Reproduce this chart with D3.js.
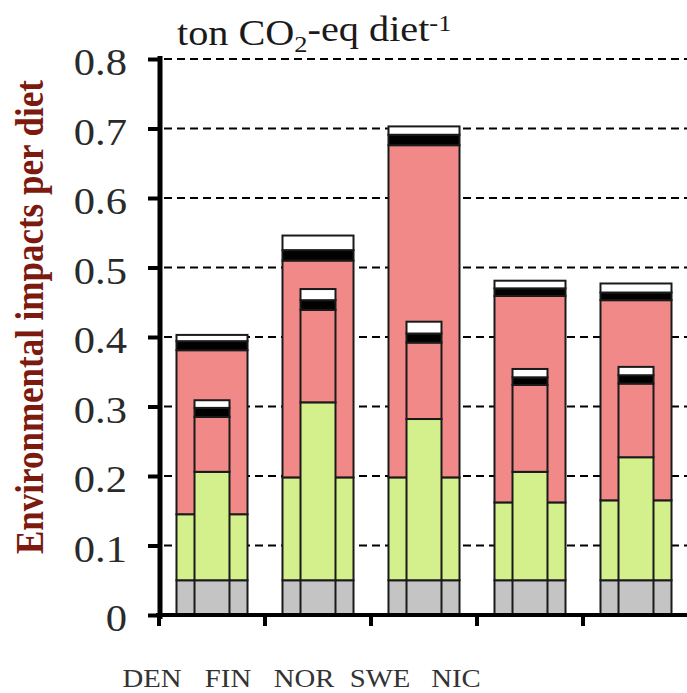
<!DOCTYPE html>
<html>
<head>
<meta charset="utf-8">
<script src="https://cdn.jsdelivr.net/npm/d3@7"></script>
<style>
  html, body { margin: 0; padding: 0; background: #fff; }
  svg { display: block; }
  text { font-family: "Liberation Serif", "Times New Roman", serif; }
</style>
</head>
<body>
<svg id="chart" width="687" height="693"></svg>
<script>
// ---- Data ----
const categories = ["DEN", "FIN", "NOR", "SWE", "NIC"];
const layers = ["base", "green", "red", "black", "white"];

// wide bars (segment values)
const baseWide  = [0.050, 0.050, 0.050, 0.050, 0.050];
const greenWide = [0.095, 0.148, 0.148, 0.112, 0.115];
const redWide   = [0.236, 0.312, 0.478, 0.297, 0.288];
const blackWide = [0.013, 0.015, 0.015, 0.011, 0.011];
const whiteWide = [0.009, 0.021, 0.012, 0.011, 0.013];

// narrow bars (segment values)
const baseNarrow  = [0.050, 0.050, 0.050, 0.050, 0.050];
const greenNarrow = [0.156, 0.256, 0.232, 0.156, 0.177];
const redNarrow   = [0.079, 0.133, 0.110, 0.125, 0.106];
const blackNarrow = [0.013, 0.014, 0.013, 0.011, 0.012];
const whiteNarrow = [0.011, 0.016, 0.017, 0.012, 0.012];

const yTicks = [0, 0.1, 0.2, 0.3, 0.4, 0.5, 0.6, 0.7, 0.8];
const yLabel = "Environmental impacts per diet";

const colors = { base: "#c4c4c4", green: "#d4f08c", red: "#f28989", black: "#000000", white: "#ffffff" };

// ---- Build tables ----
function table(arrs) {
  return categories.map((c, i) => {
    const row = { cat: c };
    layers.forEach((k, j) => row[k] = arrs[j][i]);
    return row;
  });
}
const wideData = table([baseWide, greenWide, redWide, blackWide, whiteWide]);
const narrowData = table([baseNarrow, greenNarrow, redNarrow, blackNarrow, whiteNarrow]);

const stack = d3.stack().keys(layers);
const wideStack = stack(wideData);
const narrowStack = stack(narrowData);

// ---- Scales ----
const svg = d3.select("#chart");
const x = d3.scaleBand().domain(categories).range([159, 689]).padding(0);
const y = d3.scaleLinear().domain([0, 0.8]).range([615, 59]);
const labelX = d3.scalePoint().domain(categories).range([152, 456]);

const wideW = x.bandwidth() * 0.67;
const narrowW = x.bandwidth() * 0.33;

// ---- Gridlines ----
svg.append("g").selectAll("line")
  .data(yTicks.filter(d => d > 0))
  .join("line")
  .attr("x1", 164).attr("x2", 687)
  .attr("y1", d => y(d)).attr("y2", d => y(d))
  .attr("stroke", "#000").attr("stroke-width", 2)
  .attr("stroke-dasharray", "8,5");

// ---- Bars ----
function drawBars(st, w) {
  const g = svg.append("g");
  st.forEach(layer => {
    g.selectAll(null)
      .data(layer)
      .join("rect")
      .attr("x", d => x(d.data.cat) + (x.bandwidth() - w) / 2)
      .attr("width", w)
      .attr("y", d => y(d[1]))
      .attr("height", d => y(d[0]) - y(d[1]))
      .attr("fill", colors[layer.key])
      .attr("stroke", "#1a1a1a")
      .attr("stroke-width", 2);
  });
}
drawBars(wideStack, wideW);
drawBars(narrowStack, narrowW);

// ---- Y axis ----
const yAxis = d3.axisLeft(y)
  .tickValues(yTicks)
  .tickSize(12)
  .tickSizeOuter(0)
  .tickFormat(d => d === 0 ? "0" : d3.format(".1f")(d));
const gy = svg.append("g").attr("transform", "translate(160,0)").call(yAxis);
gy.select(".domain").attr("stroke", "#000").attr("stroke-width", 5).attr("d", `M0,${y(0.8) - 3}V${y(0) + 4}`);
gy.selectAll(".tick line").attr("stroke", "#000").attr("stroke-width", 4);
gy.selectAll(".tick text")
  .attr("x", null)
  .attr("dy", "0.42em")
  .attr("transform", "translate(-33,0) scale(1.15,1)")
  .attr("fill", "#2a2a2a")
  .style("font-size", "37px");

// ---- X axis ----
const gx = svg.append("g");
gx.append("line")
  .attr("x1", 156).attr("x2", 687)
  .attr("y1", y(0)).attr("y2", y(0))
  .attr("stroke", "#000").attr("stroke-width", 4);
const boundaries = categories.map(c => x(c)).concat([x.range()[1]]);
gx.selectAll(".xt")
  .data(boundaries)
  .join("line")
  .attr("x1", d => d).attr("x2", d => d)
  .attr("y1", y(0)).attr("y2", y(0) + 11)
  .attr("stroke", "#000").attr("stroke-width", 4);

// ---- Category labels ----
svg.append("g").selectAll("text")
  .data(categories)
  .join("text")
  .attr("transform", d => `translate(${labelX(d)},687) scale(1.15,1)`)
  .attr("text-anchor", "middle")
  .attr("fill", "#333")
  .style("font-size", "25px")
  .text(d => d);

// ---- Title (unit) ----
const title = svg.append("text")
  .attr("transform", "translate(177,45) scale(1.15,1)")
  .attr("fill", "#1a1a1a")
  .style("font-size", "35px");
title.append("tspan").text("ton CO");
title.append("tspan").attr("dy", "0.3em").style("font-size", "23px").text("2");
title.append("tspan").attr("dy", "-0.3em").text("-eq diet");
title.append("tspan").attr("dy", "-0.45em").style("font-size", "23px").text("-1");

// ---- Y label ----
svg.append("text")
  .attr("transform", "translate(43,317) rotate(-90) scale(1,1.15)")
  .attr("text-anchor", "middle")
  .attr("fill", "#7d1a10")
  .style("font-size", "35px")
  .style("font-weight", "bold")
  .text(yLabel);
</script>
</body>
</html>
